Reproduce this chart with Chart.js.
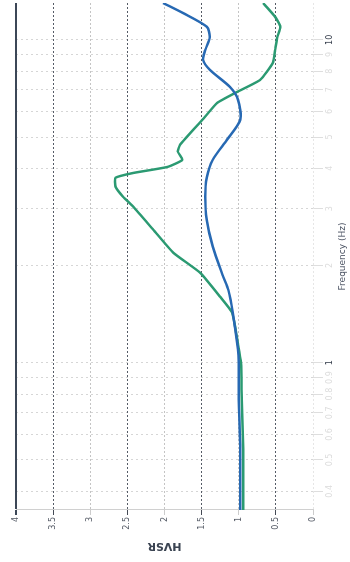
<!DOCTYPE html>
<html>
<head>
<meta charset="utf-8">
<script src="https://cdn.jsdelivr.net/npm/chart.js@4"></script>
<style>
  html, body { margin: 0; padding: 0; background: #fff; overflow: hidden; }
  #page { position: relative; width: 350px; height: 562px; overflow: hidden; background: #fff; }
  /* the chart is printed on its side: rotate the whole thing counter-clockwise */
  #wrap {
    position: absolute; left: 0; top: 0;
    width: 562px; height: 350px;
    transform-origin: 0 0;
    transform: translateY(562px) rotate(-90deg);
  }
</style>
</head>
<body>
<div id="page">
  <div id="wrap"><canvas id="hvsr-chart" width="562" height="350"></canvas></div>
</div>
<script>
// frequency (Hz) and HVSR
const blueFreq = [0.35, 0.54, 0.77, 1.0, 1.1, 1.43, 1.68, 1.85, 2.29, 2.77, 3.27, 3.74, 4.25, 4.9, 5.65, 6.52, 7.15, 8.07, 8.67, 9.31, 10.2, 10.97, 12.1, 13.0];
const blueHvsr = [0.98, 0.98, 1.0, 1.0, 1.01, 1.08, 1.14, 1.21, 1.35, 1.43, 1.45, 1.43, 1.35, 1.16, 0.98, 1.01, 1.12, 1.39, 1.48, 1.45, 1.39, 1.43, 1.75, 2.02];

const greenFreq = [0.35, 0.54, 0.77, 1.0, 1.14, 1.43, 1.6, 1.9, 2.19, 2.58, 3.04, 3.27, 3.51, 3.74, 3.87, 4.04, 4.25, 4.5, 4.73, 5.72, 6.38, 6.9, 7.52, 8.49, 9.31, 10.2, 10.97, 11.78, 12.83, 13.0];
const greenHvsr = [0.94, 0.94, 0.96, 0.97, 1.01, 1.09, 1.25, 1.52, 1.88, 2.15, 2.42, 2.56, 2.66, 2.66, 2.42, 1.96, 1.76, 1.82, 1.79, 1.47, 1.29, 1.02, 0.71, 0.54, 0.51, 0.48, 0.44, 0.51, 0.65, 0.67];

const freqTicks = [0.4, 0.5, 0.6, 0.7, 0.8, 0.9, 1, 2, 3, 4, 5, 6, 7, 8, 9, 10];
const freqMajor = [1, 10];
const hvsrTicks = [0, 0.5, 1, 1.5, 2, 2.5, 3, 3.5, 4];

function toPoints(xs, ys) {
    return xs.map(function(x, i) { return { x: x, y: ys[i] }; });
}

const ctx = document.getElementById('hvsr-chart').getContext('2d');

new Chart(ctx, {
    type: 'line',
    data: {
        datasets: [{
            label: 'HVSR 1',
            data: toPoints(blueFreq, blueHvsr),
            borderColor: '#2769b3',
            borderWidth: 2.5,
            pointRadius: 0,
            tension: 0.25,
            fill: false
        }, {
            label: 'HVSR 2',
            data: toPoints(greenFreq, greenHvsr),
            borderColor: '#2b9a72',
            borderWidth: 2.5,
            pointRadius: 0,
            tension: 0.15,
            fill: false
        }]
    },
    options: {
        responsive: false,
        animation: false,
        layout: { padding: { top: 16, right: 3, left: 0, bottom: 0 } },
        plugins: {
            legend: { display: false },
            tooltip: { enabled: false }
        },
        scales: {
            x: {
                type: 'logarithmic',
                min: 0.35,
                max: 13,
                afterBuildTicks: function(axis) {
                    axis.ticks = freqTicks.map(function(v) { return { value: v }; });
                },
                afterFit: function(axis) { axis.height = 37; },
                grid: {
                    color: '#d6d6d6',
                    lineWidth: 1,
                    drawTicks: true,
                    tickLength: 10,
                    tickColor: '#dedede'
                },
                border: { display: false, dash: [2, 3] },
                ticks: {
                    autoSkip: false,
                    maxRotation: 0,
                    minRotation: 0,
                    padding: 2,
                    font: { family: 'DejaVu Sans', size: 8 },
                    color: function(c) {
                        return freqMajor.indexOf(c.tick.value) >= 0 ? '#3a4250' : '#dcdcdc';
                    },
                    callback: function(value) { return String(value); }
                },
                title: {
                    display: true,
                    text: 'Frequency (Hz)',
                    color: '#4a5262',
                    font: { family: 'DejaVu Sans', size: 9 },
                    padding: { top: 0, bottom: 2 }
                }
            },
            y: {
                min: 0,
                max: 4,
                afterBuildTicks: function(axis) {
                    axis.ticks = hvsrTicks.map(function(v) { return { value: v }; });
                },
                afterFit: function(axis) { axis.width = 52; },
                grid: {
                    color: function(c) {
                        const v = c.tick.value;
                        if (v === 4) return '#3c4757';
                        if (v === 0) return '#e6e6e6';
                        return (v % 1 !== 0) ? '#555b66' : '#c4c4c4';
                    },
                    lineWidth: function(c) { return c.tick.value === 4 ? 2 : 1; },
                    drawTicks: true,
                    tickLength: 5,
                    tickColor: function(c) {
                        const v = c.tick.value;
                        if (v === 4) return '#3c4757';
                        return (v % 1 !== 0) ? '#444a55' : '#cccccc';
                    }
                },
                border: {
                    display: true,
                    color: '#d0d0d0',
                    width: 1,
                    dash: function(c) {
                        if (!c.tick) return [];
                        return c.tick.value === 4 ? [] : [2, 2];
                    }
                },
                ticks: {
                    padding: 2,
                    font: { family: 'DejaVu Sans', size: 8 },
                    color: '#555b66',
                    callback: function(value) { return String(value); }
                },
                title: {
                    display: true,
                    text: 'HVSR',
                    color: '#3b4452',
                    font: { family: 'DejaVu Sans', size: 11, weight: 'bold' },
                    padding: { top: 10, bottom: 0 }
                }
            }
        }
    }
});
</script>
</body>
</html>
